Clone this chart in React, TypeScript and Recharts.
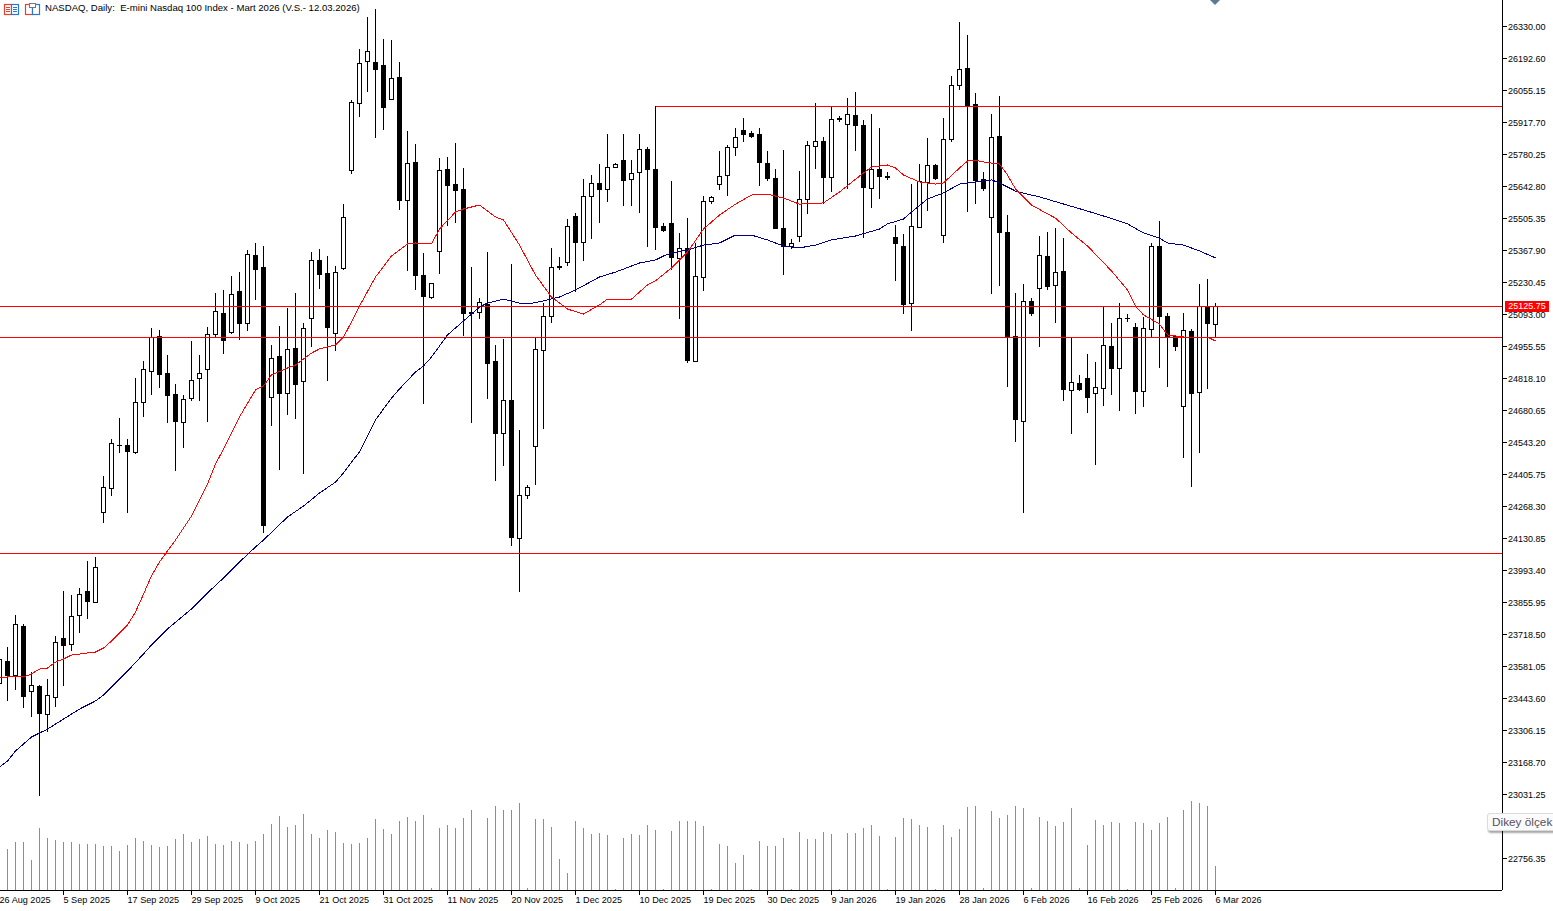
import { Bar, ComposedChart, Line, ReferenceLine, XAxis, YAxis } from "recharts";

const opens = [
  23508,23601,23539,23749,23472,23494,23372,23445,23700,23673,
  23799,23902,23855,24241,24344,24529,24529,24499,24714,24847,
  24997,24838,24748,24628,24731,24817,24855,25006,25096,25014,
  25188,25053,25346,25291,24735,24911,24752,24946,24804,25075,
  25324,25268,25010,25288,25710,25998,26178,26174,26161,26015,
  26110,25581,25745,25259,25165,25361,25712,25651,25626,25101,
  25100,25132,24887,24579,24722,24130,24314,24525,24935,25083,
  25296,25313,25510,25399,25597,25654,25629,25721,25753,25672,
  25702,25800,25715,25467,25483,25332,25375,24890,25251,25577,
  25650,25689,25809,25882,25869,25865,25740,25676,25461,25382,
  25425,25584,25813,25832,25678,25932,25908,25947,25904,25633,
  25715,25683,25422,25384,25139,25465,25659,25732,25431,25842,
  26075,26148,25994,25672,25508,25856,25445,24997,24632,25148,
  25203,25341,25216,25276,24765,24795,24817,24752,24774,24954,
  24860,25075,25036,24761,25027,25385,25083,24997,24697,25019,
  24757,25126,25049,
];
const highs = [
  23628,23661,23800,23761,23551,23499,23525,23706,23899,23886,
  23916,24032,24045,24397,24555,24646,24552,24814,24887,25029,
  25024,24913,24792,24745,24973,24913,25033,25179,25196,25252,
  25273,25364,25394,25385,24959,25041,25115,25179,25053,25355,
  25368,25338,25295,25564,26012,26230,26367,26399,26270,26266,
  26175,25875,25822,25354,25225,25759,25767,25826,25720,25291,
  25160,25358,24959,24984,25307,24593,24357,24990,25136,25375,
  25337,25500,25523,25669,25686,25733,25866,25740,25862,25754,
  25862,25810,25983,25480,25664,25440,25505,25397,25599,25599,
  25793,25818,25891,25934,25875,25891,25793,25715,25797,25414,
  25707,25836,25995,25850,25983,25943,26017,26045,25925,25952,
  25891,25702,25471,25435,25651,25737,25845,25737,25931,26115,
  26347,26291,26038,25702,25948,26029,25514,25179,25221,25160,
  25428,25445,25462,25419,24990,24827,24920,24886,25127,25054,
  25136,25090,25054,25076,25394,25492,25097,24997,25097,25027,
  25218,25243,25140,
];
const lows = [
  23478,23432,23482,23401,23366,23023,23298,23405,23499,23646,
  23723,23783,23855,24197,24313,24497,24240,24495,24652,24746,
  24776,24626,24420,24519,24722,24721,24630,24997,24923,25010,
  24983,25021,25157,24154,24613,24424,24660,24643,24407,24953,
  25202,24807,24937,25283,25696,25940,26048,25850,25885,26015,
  25540,25279,25197,24708,25159,25265,25475,25484,25000,24626,
  25073,24729,24377,24441,24098,23900,24300,24360,24600,25056,
  25283,25300,25189,25322,25416,25485,25575,25721,25561,25557,
  25528,25382,25369,25449,25282,25073,24884,24890,25193,25567,
  25626,25604,25772,25832,25850,25643,25667,25459,25262,25375,
  25404,25523,25720,25569,25618,25918,25633,25797,25421,25550,
  25588,25669,25236,25094,25021,25465,25537,25669,25398,25833,
  26056,25532,25567,25623,25180,25215,24781,24545,24240,25086,
  24953,25197,25056,24721,24579,24766,24669,24446,24699,24746,
  24678,25059,24665,24695,24993,24862,24781,24938,24476,24351,
  24497,24772,24994,
];
const closes = [
  23607,23539,23760,23452,23498,23375,23455,23683,23668,23795,
  23889,23857,24005,24349,24538,24528,24502,24714,24855,24993,
  24834,24742,24632,24727,24808,24838,25006,25105,24980,25178,
  25051,25349,25283,24184,24903,24752,24941,24789,25032,25324,
  25262,25036,25272,25508,26002,26170,26221,26142,25979,26105,
  25580,25740,25258,25167,25225,25710,25644,25623,25094,25097,
  25143,24880,24579,24722,24132,24314,24349,24941,25083,25294,
  25292,25470,25399,25599,25654,25627,25723,25736,25666,25697,
  25800,25713,25464,25451,25335,25375,24892,25255,25577,25594,
  25684,25809,25852,25863,25855,25743,25674,25459,25382,25397,
  25586,25818,25835,25678,25929,25929,25951,25904,25637,25715,
  25683,25680,25395,25135,25470,25663,25732,25673,25843,26075,
  26144,25986,25666,25631,25852,25442,24994,24639,25148,25093,
  25345,25210,25272,24768,24800,24768,24734,24778,24959,24860,
  25075,25074,24759,25032,25384,25081,24996,24954,25023,24751,
  25126,25051,25126,
];
const volumes = [
  40,
  41,48,48,30,62,52,50,48,48,46,46,46,44,44,39,45,52,49,45,43,44,51,56,48,51,54,46,45,49,48,46,49,
  56,66,74,63,65,76,56,52,60,58,47,46,47,52,71,61,56,69,73,69,75,2,62,65,62,72,80,2,72,84,80,80,87,
  2,71,71,63,31,17,69,62,56,57,55,1,52,56,55,65,60,1,59,69,69,69,64,1,46,44,27,35,1,49,44,44,52,1,
  58,51,51,58,56,1,57,57,62,65,54,1,53,72,71,65,63,1,65,53,61,83,84,2,79,72,75,84,82,2,73,
  69,64,68,82,2,45,70,65,68,67,1,68,67,60,67,73,2,80,89,87,84,24,
];

// [bar index, value]
const redMa: [number, number][] = [
  [0,23530],[2,23538],[3,23534],[4,23547],[5,23568],[6,23572],[7,23598],[8,23611],[9,23628],[11,23637],
  [12,23641],[13,23658],[14,23688],[16,23757],[17,23813],[18,23890],[19,23968],[20,24028],[22,24122],[24,24225],
  [26,24363],[27,24449],[28,24513],[30,24651],[32,24767],[33,24784],[34,24831],[36,24861],[37,24874],[39,24925],
  [40,24943],[42,24960],[43,24994],[44,25059],[45,25127],[47,25252],[49,25342],[51,25394],[52,25398],[54,25394],
  [55,25458],[57,25531],[58,25544],[60,25561],[61,25535],[62,25510],[63,25497],[65,25389],[67,25260],[69,25166],
  [71,25114],[73,25093],[75,25132],[76,25157],[79,25157],[81,25218],[82,25235],[84,25291],[86,25359],[88,25458],
  [90,25518],[92,25565],[94,25604],[96,25608],[98,25591],[100,25565],[103,25570],[105,25617],[108,25699],[109,25724],
  [111,25733],[112,25720],[113,25690],[115,25660],[117,25651],[118,25656],[120,25720],[121,25750],[122,25754],[123,25746],
  [125,25737],[126,25690],[127,25630],[129,25561],[131,25523],[132,25505],[134,25441],[136,25385],[139,25278],[141,25196],
  [142,25127],[143,25089],[145,25050],[146,25003],[149,24990],[151,24994],[152,24977],
];
const blueMa: [number, number][] = [
  [0,23147],[1,23173],[2,23216],[3,23246],[4,23276],[6,23310],[8,23353],[10,23396],[12,23431],[13,23456],
  [16,23559],[18,23633],[19,23671],[21,23740],[24,23826],[26,23895],[28,23959],[30,24028],[32,24092],[33,24122],
  [36,24221],[38,24268],[40,24324],[42,24371],[43,24410],[44,24457],[45,24500],[47,24638],[49,24732],[50,24771],
  [52,24844],[53,24870],[54,24908],[56,25003],[58,25063],[60,25123],[61,25140],[63,25157],[65,25140],[66,25136],
  [68,25149],[70,25166],[72,25196],[75,25252],[77,25273],[80,25312],[82,25325],[83,25342],[84,25355],[86,25368],
  [88,25389],[90,25398],[92,25432],[94,25432],[96,25411],[98,25385],[100,25377],[102,25389],[104,25411],[107,25428],
  [110,25458],[111,25480],[113,25501],[114,25531],[116,25587],[118,25613],[120,25651],[122,25660],[124,25669],[125,25656],
  [127,25621],[129,25604],[130,25596],[136,25535],[138,25514],[141,25480],[143,25441],[145,25419],[146,25398],[148,25389],
  [150,25364],[152,25334],
];

const xLabels = [
  "26 Aug 2025","5 Sep 2025","17 Sep 2025","29 Sep 2025","9 Oct 2025","21 Oct 2025","31 Oct 2025",
  "11 Nov 2025","20 Nov 2025","1 Dec 2025","10 Dec 2025","19 Dec 2025","30 Dec 2025","9 Jan 2026",
  "19 Jan 2026","28 Jan 2026","6 Feb 2026","16 Feb 2026","25 Feb 2026","6 Mar 2026",
];
const xTicks = xLabels.map((_, i) => i * 8);
// the label between 23031.25 and 22756.35 sits under the hover hint in the picture
const yLabels = [
  "26330.00","26192.60","26055.15","25917.70","25780.25","25642.80","25505.35","25367.90","25230.45",
  "25093.00","24955.55","24818.10","24680.65","24543.20","24405.75","24268.30","24130.85","23993.40",
  "23855.95","23718.50","23581.05","23443.60","23306.15","23168.70","23031.25","22756.35",
];
const yTicks = yLabels.map(Number);

const lastPrice = 25125.75;
const levelLines = [24993, 24065];
const topLevel = 25985;
const topLevelStart = 82;
const title = "NASDAQ, Daily:  E-mini Nasdaq 100 Index - Mart 2026 (V.S.- 12.03.2026)";

const FONT = "'Liberation Sans', sans-serif";
const xDomain: [number, number] = [0.0625, 187.8125];

const redByIndex = new Map(redMa);
const blueByIndex = new Map(blueMa);
const data = opens.map((open, i) => ({
  i,
  open,
  high: highs[i],
  low: lows[i],
  close: closes[i],
  volume: volumes[i],
  red: redByIndex.get(i) ?? null,
  blue: blueByIndex.get(i) ?? null,
}));

function Candle(props: any) {
  const { x, y, width, height, payload } = props;
  const c = Math.floor(x + width / 2) + 0.5;
  const perUnit = height / (payload.high - payload.low);
  const at = (v: number) => Math.floor(y + (payload.high - v) * perUnit);
  const up = payload.close >= payload.open;
  const top = at(Math.max(payload.open, payload.close));
  const bottom = at(Math.min(payload.open, payload.close));
  return (
    <g>
      <line x1={c} x2={c} y1={at(payload.high)} y2={at(payload.low) + 1} stroke="#000" strokeWidth={1} />
      {bottom - top < 1 ? (
        <line x1={c - 2.5} x2={c + 2.5} y1={top + 0.5} y2={top + 0.5} stroke="#000" strokeWidth={1} />
      ) : (
        <rect
          x={c - 2}
          y={top + 0.5}
          width={4}
          height={bottom - top}
          fill={up ? "#fff" : "#000"}
          stroke="#000"
          strokeWidth={1}
        />
      )}
    </g>
  );
}

function VolumeBar(props: any) {
  const { x, y, width, height } = props;
  return <rect x={Math.floor(x + width / 2)} y={y} width={1} height={height} fill="#32cd32" />;
}

function PriceTick(props: any) {
  const { y, payload } = props;
  const row = Math.floor(y + 0.25) + 0.5;
  return (
    <g>
      <line x1={1502} x2={1507} y1={row} y2={row} stroke="#000" />
      <text x={1508} y={row + 3.5} fontSize={9} fontFamily={FONT} fill="#000">
        {yLabels[yTicks.indexOf(payload.value)]}
      </text>
    </g>
  );
}

function DateTick(props: any) {
  const { x, payload } = props;
  const col = Math.floor(x) + 0.5;
  return (
    <g>
      <line x1={col} x2={col} y1={890} y2={895} stroke="#000" />
      <text x={x} y={903} fontSize={9.1} fontFamily={FONT} fill="#000">
        {xLabels[payload.value / 8]}
      </text>
    </g>
  );
}

export default function App() {
  return (
    <div style={{ position: "absolute", left: 0, top: 0, width: 1553, height: 911, overflow: "hidden", background: "#fff" }}>
      <ComposedChart width={1553} height={911} data={data} margin={{ top: 0, right: 0, bottom: 0, left: 0 }}>
        <XAxis
          dataKey="i"
          type="number"
          domain={xDomain}
          allowDataOverflow
          ticks={xTicks}
          interval={0}
          height={21}
          tickSize={0}
          tick={DateTick}
          axisLine={{ stroke: "#000", shapeRendering: "crispEdges" }}
        />
        <XAxis xAxisId="volumeX" dataKey="i" type="number" domain={xDomain} allowDataOverflow hide />
        <YAxis
          yAxisId="price"
          orientation="right"
          type="number"
          domain={[22618.9, 26441.7]}
          allowDataOverflow
          ticks={yTicks}
          interval={0}
          width={51}
          tickSize={0}
          tick={PriceTick}
          axisLine={{ stroke: "#000", shapeRendering: "crispEdges" }}
        />
        <YAxis yAxisId="volume" hide type="number" domain={[0, 890]} allowDataOverflow />
        <Bar xAxisId="volumeX" yAxisId="volume" dataKey="volume" barSize={1} shape={VolumeBar} isAnimationActive={false} />
        {levelLines.map((v) => (
          <ReferenceLine key={v} yAxisId="price" y={v} stroke="#f00" shapeRendering="crispEdges" />
        ))}
        <ReferenceLine yAxisId="price" y={lastPrice} stroke="#f00" shapeRendering="crispEdges" />
        <ReferenceLine
          yAxisId="price"
          segment={[
            { x: topLevelStart, y: topLevel },
            { x: 187.8125, y: topLevel },
          ]}
          stroke="#f00"
          shapeRendering="crispEdges"
        />
        <Line
          yAxisId="price"
          dataKey="blue"
          stroke="#000080"
          strokeWidth={1}
          dot={false}
          connectNulls
          shapeRendering="crispEdges"
          isAnimationActive={false}
        />
        <Line
          yAxisId="price"
          dataKey="red"
          stroke="#f00"
          strokeWidth={1}
          dot={false}
          connectNulls
          shapeRendering="crispEdges"
          isAnimationActive={false}
        />
        <Bar
          yAxisId="price"
          dataKey={(d: any) => [d.low, d.high]}
          barSize={5}
          shape={Candle}
          isAnimationActive={false}
        />
      </ComposedChart>

      {/* header icons and title */}
      <svg width={42} height={18} style={{ position: "absolute", left: 3, top: 1 }}>
        <rect x={1.5} y={3.5} width={7} height={10} fill="#fff" stroke="#e8402f" strokeWidth={1.2} />
        <rect x={8.5} y={3.5} width={7} height={10} fill="#fff" stroke="#2a78d0" strokeWidth={1.2} />
        <path d="M3 6.5h4M3 8.5h4M3 10.5h4" stroke="#e8402f" />
        <path d="M10 6.5h4M10 8.5h4M10 10.5h4" stroke="#2a78d0" />
        <rect x={22.5} y={3.5} width={7} height={10} fill="#fff" stroke="#e8402f" strokeWidth={1.2} />
        <rect x={29.5} y={3.5} width={7} height={10} fill="#fff" stroke="#2a78d0" strokeWidth={1.2} />
        <rect x={26.5} y={2.5} width={6} height={4} fill="#fff" stroke="#777" />
      </svg>
      <div
        style={{
          position: "absolute",
          left: 45,
          top: 2,
          fontFamily: FONT,
          fontSize: 9.6,
          lineHeight: "12px",
          whiteSpace: "pre",
          color: "#000",
        }}
      >
        {title}
      </div>

      {/* marker at the top edge */}
      <svg width={12} height={6} style={{ position: "absolute", left: 1209, top: 0 }}>
        <polygon points="1,0 11,0 6,5" fill="#5f7a96" />
      </svg>

      {/* last price tag */}
      <div
        style={{
          position: "absolute",
          left: 1505,
          top: 301,
          width: 44,
          height: 11,
          background: "#f00",
          color: "#fff",
          fontFamily: FONT,
          fontSize: 9,
          lineHeight: "11px",
          textAlign: "center",
        }}
      >
        {lastPrice.toFixed(2)}
      </div>

      {/* hover hint */}
      <div
        style={{
          position: "absolute",
          left: 1487,
          top: 813,
          width: 80,
          height: 18,
          boxSizing: "border-box",
          background: "#fbfbfb",
          border: "1px solid #dcdcdc",
          borderRadius: 3,
          boxShadow: "1px 2px 2px rgba(0,0,0,.35)",
          color: "#575060",
          fontFamily: FONT,
          fontSize: 11.8,
          lineHeight: "16px",
          paddingLeft: 4,
          whiteSpace: "nowrap",
        }}
      >
        Dikey ölçek
      </div>
    </div>
  );
}
